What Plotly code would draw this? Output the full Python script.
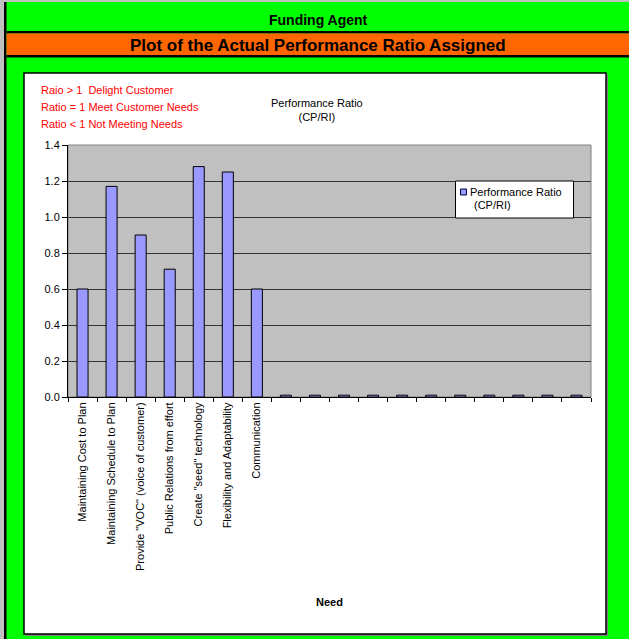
import plotly.graph_objects as go

# Needs assessed for the funding agent, padded with unused slots
needs = [
    "Maintaining Cost to Plan",
    "Maintaining Schedule to Plan",
    "Provide \"VOC\" (voice of customer)",
    "Public Relations from effort",
    "Create \"seed\" technology",
    "Flexibility and Adaptability",
    "Communication",
]
n_blank = 11
categories = needs + [" " * (i + 1) for i in range(n_blank)]

ratios = [0.60, 1.17, 0.90, 0.71, 1.28, 1.25, 0.60] + [0.01] * n_blank

y_ticks = [0.0, 0.2, 0.4, 0.6, 0.8, 1.0, 1.2, 1.4]

series_name = ["Performance Ratio", "(CP/RI)"]

BAR_COLOR = "#9999FF"
W, H = 629, 639


def px(x):
    return x / W


def py(y):
    return 1 - y / H


def rect(x0, y0, x1, y1, fill, line_color=None, line_width=0, layer="below"):
    return dict(
        type="rect", xref="paper", yref="paper", layer=layer,
        x0=px(x0), x1=px(x1), y0=py(y1), y1=py(y0),
        fillcolor=fill,
        line=dict(color=line_color or fill, width=line_width),
    )


def text(t, x, y, size=11, color="#000000", xanchor="center", align="center"):
    return dict(text=t, x=px(x), y=py(y), xref="paper", yref="paper",
                showarrow=False, borderpad=0,
                font=dict(size=size, color=color, family=FONT),
                xanchor=xanchor, yanchor="middle", align=align)


FONT = "Liberation Sans, Arial, sans-serif"

fig = go.Figure()
fig.add_trace(go.Bar(
    x=categories,
    y=ratios,
    name=" ".join(series_name),
    marker=dict(color=BAR_COLOR, line=dict(color="#000000", width=1)),
    showlegend=False,
))

shapes = [
    # outer frame pieces
    rect(0, 0, 4, H, "#C0C0C0"),
    rect(0, 0, W, 2, "#C0C0C0"),
    rect(4, 2, 6.5, H, "#000000"),
    # header bands
    rect(6.5, 31, W, 33.5, "#000000"),
    rect(6.5, 33.5, W, 55, "#FF6600"),
    rect(6.5, 55, W, 57.5, "#000000"),
    # chart panel with a slight shadow
    rect(25.5, 74.5, 608, 636, "#808080"),
    rect(24, 73, 606, 634, "#FFFFFF", "#000000", 1.5),
    # plot area
    rect(68, 145, 591, 397, "#C0C0C0", "#808080", 1),
    # series key box and swatch
    rect(455.5, 181, 573.5, 218, "#FFFFFF", "#000000", 1, layer="above"),
    rect(460.5, 189, 466.5, 195, BAR_COLOR, "#000040", 1, layer="above"),
]

annotations = [
    text("<b>Funding Agent</b>", 318, 20, size=14),
    text("<b>Plot of the Actual Performance Ratio Assigned</b>", 318, 45, size=17),
    text("Performance Ratio<br>(CP/RI)", 317, 110),
    text("Raio > 1  Delight Customer", 40, 90, color="#FF0000", xanchor="left"),
    text("Ratio = 1 Meet Customer Needs", 40, 107, color="#FF0000", xanchor="left"),
    text("Ratio < 1 Not Meeting Needs", 40, 124, color="#FF0000", xanchor="left"),
    text("<b>Need</b>", 329, 602),
    # series key labels
    text(series_name[0], 469, 192, xanchor="left"),
    text(series_name[1], 473, 205, xanchor="left"),
]

fig.update_layout(
    width=W, height=H,
    margin=dict(l=0, r=0, t=0, b=0),
    paper_bgcolor="#00FF00",
    plot_bgcolor="#C0C0C0",
    font=dict(family=FONT, size=11, color="#000000"),
    bargap=0.62,
    showlegend=False,
    shapes=shapes,
    annotations=annotations,
    xaxis=dict(
        domain=[px(68), px(591)],
        type="category",
        categoryorder="array", categoryarray=categories,
        tickson="boundaries", ticks="outside", ticklen=4, tickcolor="#000000",
        tickangle=-90,
        tickfont=dict(size=11, family=FONT, color="#000000"),
        showline=True, linecolor="#000000", linewidth=1,
        showgrid=False, automargin=False, fixedrange=True,
    ),
    yaxis=dict(
        domain=[py(397), py(145)],
        range=[0, 1.4],
        tickvals=y_ticks,
        tickformat=".1f",
        ticks="outside", ticklen=5, tickcolor="#000000",
        tickfont=dict(size=11, family=FONT, color="#000000"),
        showline=True, linecolor="#000000", linewidth=1,
        showgrid=True, gridcolor="#333333", gridwidth=1.4,
        zeroline=False, automargin=False, fixedrange=True,
    ),
)

fig.write_html("out.html")
